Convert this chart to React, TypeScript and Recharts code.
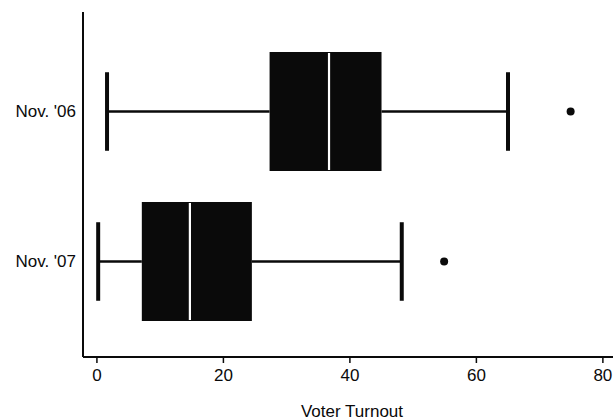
import React from 'react';
import { ComposedChart, Bar, XAxis, YAxis } from 'recharts';

const categories = ["Nov. '06", "Nov. '07"];
const minValues = [1.6, 0.2];
const q1Values = [27.3, 7.1];
const medianValues = [36.7, 14.7];
const q3Values = [45.0, 24.5];
const maxValues = [65.0, 48.2];
const outlierValues = [74.9, 54.9];
const xTicks = [0, 20, 40, 60, 80];

const data = categories.map((name, i) => ({
  name,
  min: minValues[i],
  q1: q1Values[i],
  median: medianValues[i],
  q3: q3Values[i],
  max: maxValues[i],
  outlier: outlierValues[i],
}));

const FONT = "'Liberation Sans', Arial, Helvetica, sans-serif";
const INK = '#0a0a0a';

const LowWhisker = (props: any) => {
  const { x, y, width, height } = props;
  const cy = y + height / 2;
  const half = height * 0.33;
  return (
    <g>
      <line x1={x} x2={x + width} y1={cy} y2={cy} stroke={INK} strokeWidth={2.5} />
      <line x1={x} x2={x} y1={cy - half} y2={cy + half} stroke={INK} strokeWidth={4} />
    </g>
  );
};

const HighWhisker = (props: any) => {
  const { x, y, width, height } = props;
  const cy = y + height / 2;
  const half = height * 0.33;
  return (
    <g>
      <line x1={x} x2={x + width} y1={cy} y2={cy} stroke={INK} strokeWidth={2.5} />
      <line x1={x + width} x2={x + width} y1={cy - half} y2={cy + half} stroke={INK} strokeWidth={4} />
    </g>
  );
};

const BoxShape = (props: any) => {
  const { x, y, width, height } = props;
  return <rect x={x} y={y} width={width} height={height} fill={INK} />;
};

const MedianShape = (props: any) => {
  const { x, y, width, height } = props;
  return (
    <line x1={x + width} x2={x + width} y1={y + 1} y2={y + height - 1} stroke="#ffffff" strokeWidth={2.2} />
  );
};

const OutlierShape = (props: any) => {
  const { x, y, width, height } = props;
  return <circle cx={x + width} cy={y + height / 2} r={4} fill={INK} />;
};

export default function App() {
  return (
    <div style={{ position: 'absolute', left: 0, top: 0, background: '#fff' }}>
      <ComposedChart
        width={613}
        height={420}
        data={data}
        layout="vertical"
        margin={{ top: 12, right: 0, left: 0, bottom: 0 }}
        barGap={-119}
      >
        <XAxis
          type="number"
          domain={[-2.2, 81.6]}
          ticks={xTicks}
          allowDataOverflow
          height={63}
          axisLine={{ stroke: INK, strokeWidth: 2 }}
          tickLine={{ stroke: INK, strokeWidth: 1.5 }}
          tickSize={6}
          tickMargin={6}
          tick={{ fill: INK, fontSize: 17, fontFamily: FONT }}
          label={{
            value: 'Voter Turnout',
            position: 'insideBottom',
            offset: 3,
            dx: 4,
            fill: INK,
            fontSize: 17,
            fontFamily: FONT,
          }}
        />
        <YAxis
          type="category"
          dataKey="name"
          width={83}
          padding={{ top: 24, bottom: 21 }}
          axisLine={{ stroke: INK, strokeWidth: 2 }}
          tickLine={false}
          tickSize={0}
          tickMargin={7}
          tick={{ fill: INK, fontSize: 17, fontFamily: FONT }}
        />
        <Bar dataKey={(d: any) => [d.min, d.q1]} barSize={119} shape={LowWhisker} isAnimationActive={false} />
        <Bar dataKey={(d: any) => [d.q3, d.max]} barSize={119} shape={HighWhisker} isAnimationActive={false} />
        <Bar dataKey={(d: any) => [d.q1, d.q3]} barSize={119} shape={BoxShape} isAnimationActive={false} />
        <Bar dataKey={(d: any) => [d.q1, d.median]} barSize={119} shape={MedianShape} isAnimationActive={false} />
        <Bar dataKey={(d: any) => [d.q3, d.outlier]} barSize={119} shape={OutlierShape} isAnimationActive={false} />
      </ComposedChart>
    </div>
  );
}
